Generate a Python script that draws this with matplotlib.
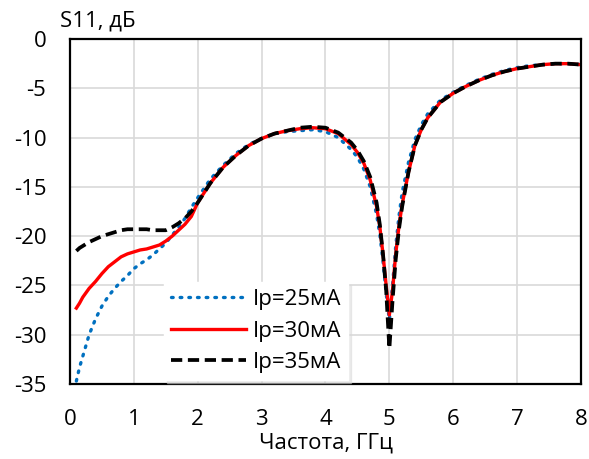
import matplotlib
matplotlib.use("Agg")
import matplotlib.pyplot as plt

plt.rcParams['font.family'] = ['Open Sans', 'DejaVu Sans']

# frequency points, GHz
freq = [0.1, 0.15, 0.2, 0.3, 0.4, 0.5, 0.6, 0.7, 0.8, 0.9, 1.0, 1.1, 1.2, 1.3, 1.4,
        1.5, 1.6, 1.7, 1.8, 1.9, 2.0, 2.2, 2.4, 2.6, 2.8, 3.0, 3.2, 3.4, 3.6, 3.8,
        4.0, 4.2, 4.4, 4.5, 4.6, 4.7, 4.8, 4.85, 4.9, 4.95, 5.0, 5.05, 5.1, 5.15, 5.2,
        5.3, 5.4, 5.5, 5.6, 5.8, 6.0, 6.2, 6.4, 6.6, 6.8, 7.0, 7.2, 7.4, 7.6, 7.8, 8.0]

# S11, dB
s11_25 = [-34.7, -33.3, -32.2, -30.0, -28.4, -27.1, -26.1, -25.3, -24.6, -24.0, -23.3,
          -22.8, -22.4, -21.9, -21.3, -20.7, -19.9, -19.1, -18.2, -17.1, -16.1, -14.2,
          -12.8, -11.6, -10.7, -10.1, -9.6, -9.4, -9.3, -9.2, -9.4, -10.0, -11.2, -12.0,
          -13.2, -15.0, -17.8, -19.8, -22.5, -25.8, -28.5, -25.0, -21.0, -18.0, -15.6,
          -12.5, -10.2, -8.7, -7.6, -6.2, -5.4, -4.7, -4.1, -3.6, -3.2, -2.9, -2.7, -2.6,
          -2.5, -2.5, -2.6]
s11_30 = [-27.3, -26.8, -26.2, -25.3, -24.6, -23.8, -23.1, -22.6, -22.1, -21.8, -21.6,
          -21.4, -21.3, -21.1, -20.9, -20.5, -20.0, -19.4, -18.8, -18.0, -16.6, -14.6,
          -13.0, -11.8, -10.8, -10.1, -9.6, -9.3, -9.1, -9.0, -9.1, -9.6, -10.7, -11.5,
          -12.6, -14.3, -17.0, -19.0, -21.8, -25.0, -28.0, -25.5, -21.8, -19.0, -16.8,
          -13.5, -10.8, -9.2, -8.0, -6.4, -5.5, -4.8, -4.2, -3.7, -3.3, -3.0, -2.8, -2.6,
          -2.5, -2.5, -2.6]
s11_35 = [-21.5, -21.2, -21.0, -20.6, -20.3, -20.0, -19.8, -19.6, -19.4, -19.3, -19.3,
          -19.3, -19.3, -19.4, -19.4, -19.4, -19.1, -18.7, -18.2, -17.5, -16.6, -14.6,
          -13.0, -11.8, -10.8, -10.1, -9.6, -9.3, -9.0, -8.9, -9.0, -9.5, -10.5, -11.3,
          -12.4, -14.0, -16.6, -18.8, -21.8, -25.5, -31.4, -26.5, -22.3, -19.3, -17.0,
          -13.5, -10.8, -9.2, -8.0, -6.4, -5.5, -4.8, -4.2, -3.7, -3.3, -3.0, -2.8, -2.6,
          -2.5, -2.5, -2.6]

labels = ['Ip=25мА', 'Ip=30мА', 'Ip=35мА']
x_ticks = [0, 1, 2, 3, 4, 5, 6, 7, 8]
y_ticks = [-35, -30, -25, -20, -15, -10, -5, 0]

fs = 16

fig = plt.figure(figsize=(5.89, 4.59), dpi=100)
ax = fig.add_axes([0.1188, 0.1634, 0.8676, 0.7516])

ax.plot(freq, s11_25, color='#0070C0', lw=2.4, linestyle=(0, (0.5, 2.1)),
        dash_capstyle='round', label=labels[0])
ax.plot(freq, s11_30, color='#FF0000', lw=2.4, label=labels[1])
ax.plot(freq, s11_35, color='black', lw=2.7, linestyle=(0, (3.0, 1.5)), label=labels[2])

ax.set_xlim(0, 8)
ax.set_ylim(-35, 0)
ax.set_xticks(x_ticks)
ax.set_yticks(y_ticks)
ax.set_xticklabels([str(v) for v in x_ticks])
ax.set_yticklabels([str(v) for v in y_ticks])
ax.tick_params(length=0, labelsize=fs)
ax.tick_params(axis='y', pad=17)
ax.tick_params(axis='x', pad=18)
ax.grid(color='#d9d9d9', lw=1.2)
ax.set_axisbelow(True)
for sp in ax.spines.values():
    sp.set_linewidth(1.6)
    sp.set_color('black')

ax.set_xlabel('Частота, ГГц', fontsize=fs, labelpad=2)
fig.text(60 / 589, 1 - 21 / 459, 'S11, дБ', fontsize=fs, va='center', ha='left')

leg = ax.legend(loc='lower left', bbox_to_anchor=(0.184, 0.012), borderaxespad=0,
                fontsize=fs, handlelength=3.4, handletextpad=0.3, labelspacing=0.48,
                fancybox=False, frameon=True, shadow={'color': '0.85', 'alpha': 0.5},
                borderpad=0.3)
leg.get_frame().set_edgecolor('white')
leg.get_frame().set_facecolor('white')
leg.get_frame().set_alpha(1)

fig.savefig('out.png', dpi=100)
